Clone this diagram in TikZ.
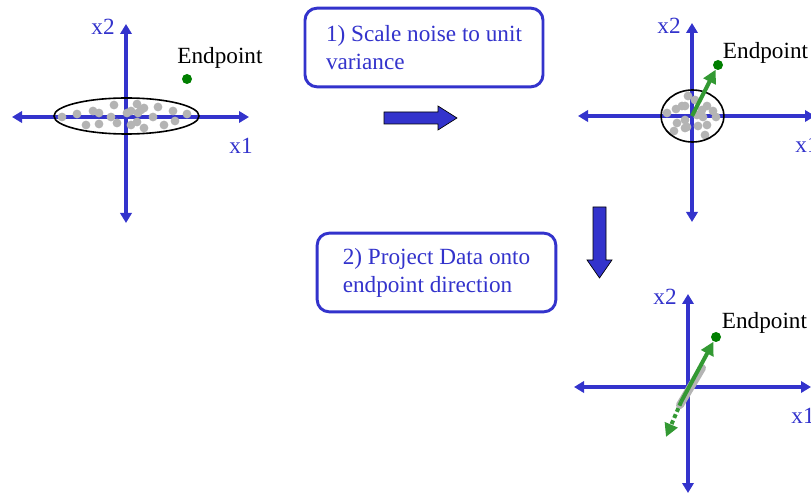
\documentclass[tikz,border=0pt]{standalone}
\usepackage{fontspec}
\setmainfont{Liberation Serif}
\usepackage{tikz}
\usetikzlibrary{arrows.meta,positioning}
\definecolor{axblue}{HTML}{3333CC}
\definecolor{vecgreen}{HTML}{339933}
\definecolor{dotgreen}{HTML}{007F00}
\definecolor{datagray}{HTML}{B4B4B4}
\tikzset{
  axis/.style={
    {Triangle[length=7.5pt,width=8.5pt]}-{Triangle[length=7.5pt,width=8.5pt]},
    line width=2.4pt, color=axblue
  },
  axlabel/.style={
    font=\fontsize{17.4pt}{21pt}\selectfont, text=axblue, inner sep=0pt
  },
  ptlabel/.style={
    font=\fontsize{17.4pt}{21pt}\selectfont, text=black, inner sep=0pt
  },
  datadot/.style={fill=datagray},
  endpt/.style={
    circle, fill=dotgreen, minimum size=7.5pt, inner sep=0pt
  },
  vec/.style={
    -{Triangle[length=10pt,width=10pt]}, line width=3pt, color=vecgreen
  },
  stepbox/.style={
    rectangle, rounded corners=9pt, draw=axblue, line width=2.2pt,
    fill=white, text=axblue, align=left,
    font=\fontsize{17.4pt}{21pt}\selectfont, inner sep=0pt
  },
  blockarrow/.style={
    fill=axblue, draw=black, line width=0.5pt, line join=miter
  },
}

\begin{document}
\begin{tikzpicture}[x=0.75pt, y=-0.75pt]
  \useasboundingbox (0,0) rectangle (811,495);

  % axes for the three plots
  \foreach \p/\ox/\oy in {a/126/117, b/692/116, c/688/387}{
    \begin{scope}[shift={(\ox,\oy)}]
      \coordinate (O\p) at (0,0);
      \coordinate (W\p) at (-114,0);
      \coordinate (E\p) at (123,0);
      \coordinate (N\p) at (0,-93);
      \coordinate (S\p) at (0,106);
      \draw[axis] (W\p) -- (E\p);
      \draw[axis] (S\p) -- (N\p);
      \node[axlabel] (xtwo\p) at (-23,-90) {x2};
      \node[axlabel] (xone\p) at (115,29) {x1};
    \end{scope}
  }

  % raw data: wide noise cloud
  \foreach \dx/\dy in {62/117, 77/114, 93/111, 99/113, 86/125, 99/124,
      114/105, 111/117, 117/123, 127/113, 131/111, 137/104, 141/110,
      144/108, 137/122, 131/125, 144/128, 153/117, 158/107, 164/125,
      173/111, 175/121, 187/114, 138/113}
    \fill[datadot] (\dx,\dy) circle (3.3pt);
  \draw[line width=1.2pt] (Oa) ++(0.5,-1) ellipse [x radius=54.4pt, y radius=13.5pt];
  \node[endpt] (enda) at (187,79) {};
  \node[ptlabel] (endalbl) at (220,58) {Endpoint};

  % whitened data
  \foreach \dx/\dy in {667/113, 676/109, 682/106, 685/106, 688/96, 695/100,
      707/106, 713/111, 716/117, 707/125, 698/126, 687/127, 677/123,
      674/131, 685/120, 697/115, 703/117, 705/135, 685/128, 702/110}
    \fill[datadot] (\dx,\dy) circle (3.3pt);
  \draw[line width=1.2pt] (Ob) ++(0.5,0) ellipse [x radius=23.6pt, y radius=19.5pt];
  \node[endpt] (endb) at (718,65) {};
  \node[ptlabel] (endblbl) at (765.5,53) {Endpoint};
  \draw[vec] (Ob) -- (endb);

  % projected data
  \coordinate (pa) at (680,405);
  \coordinate (pb) at (702,368);
  \coordinate (tail) at (681,402);
  \coordinate (tip) at (666,437);
  \draw[datagray, line width=6pt, line cap=round] (pa) -- (pb);
  \node[endpt] (endc) at (716,337) {};
  \node[ptlabel] (endclbl) at (764.5,323) {Endpoint};
  \draw[vec] (tail) -- (endc);
  \draw[vec, dash pattern=on 3pt off 2pt] (tail) -- (tip);

  % step boxes
  \node[stepbox, minimum width=178.5pt, minimum height=59pt]
    (stepone) at (424,47.5) {1) Scale noise to unit\\variance};
  \node[stepbox, minimum width=179pt, minimum height=59pt]
    (steptwo) at (436.5,272.5) {2) Project Data onto\\endpoint direction};

  % block arrows between the plots
  \draw[blockarrow] (384,112) -- (438,112) -- (438,106) -- (457,118)
    -- (438,130) -- (438,124) -- (384,124) -- cycle;
  \draw[blockarrow] (593,207) -- (606,207) -- (606,260) -- (612,260)
    -- (599.5,278) -- (587,260) -- (593,260) -- cycle;
\end{tikzpicture}
\end{document}
